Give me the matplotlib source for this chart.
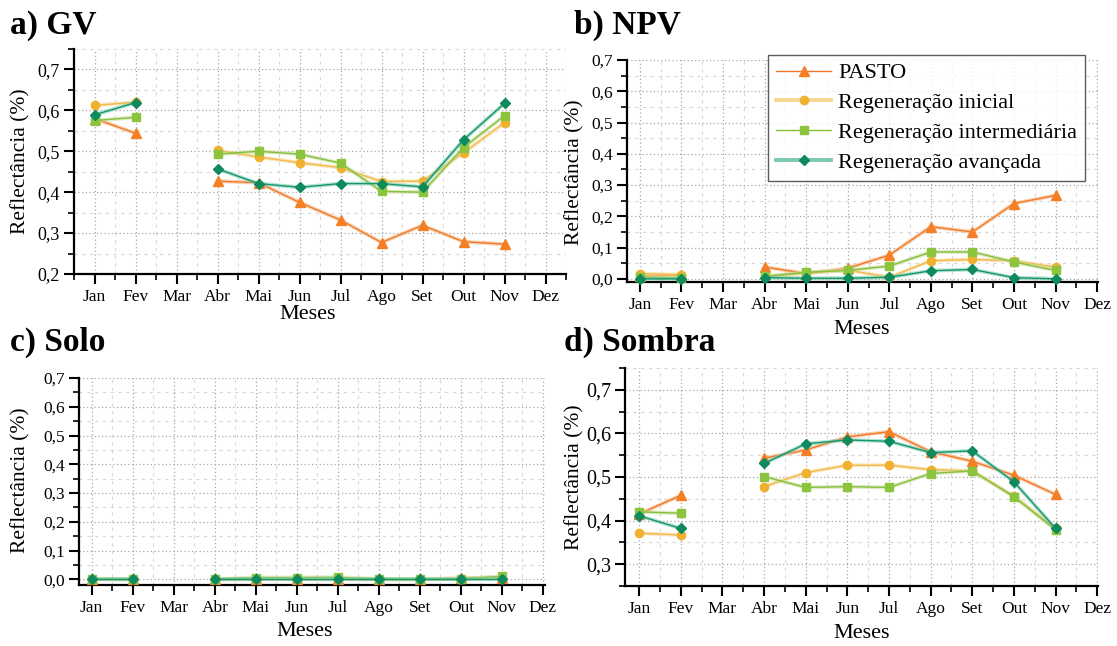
import numpy as np
import matplotlib
matplotlib.use("Agg")
import matplotlib.pyplot as plt
from matplotlib.ticker import FuncFormatter, MultipleLocator
from matplotlib.lines import Line2D

plt.rcParams['font.family'] = ['Liberation Serif', 'DejaVu Serif']

months = ["Jan", "Fev", "Mar", "Abr", "Mai", "Jun", "Jul", "Ago", "Set", "Out", "Nov", "Dez"]
nan = np.nan
series_names = ["PASTO", "Regeneração inicial", "Regeneração intermediária", "Regeneração avançada"]

# values Jan..Nov (Mar missing)
gv_pasto = [0.580, 0.544, nan, 0.427, 0.423, 0.375, 0.332, 0.277, 0.319, 0.279, 0.273]
gv_inicial = [0.612, 0.620, nan, 0.502, 0.486, 0.472, 0.460, 0.426, 0.427, 0.496, 0.570]
gv_intermed = [0.575, 0.583, nan, 0.493, 0.500, 0.493, 0.471, 0.402, 0.400, 0.509, 0.587]
gv_avancada = [0.589, 0.619, nan, 0.457, 0.421, 0.412, 0.421, 0.421, 0.413, 0.528, 0.617]

npv_pasto = [0.008, 0.012, nan, 0.038, 0.017, 0.034, 0.076, 0.167, 0.150, 0.241, 0.267]
npv_inicial = [0.017, 0.013, nan, 0.006, 0.019, 0.028, 0.005, 0.058, 0.062, 0.058, 0.037]
npv_intermed = [0.005, 0.003, nan, 0.008, 0.021, 0.027, 0.041, 0.086, 0.086, 0.054, 0.027]
npv_avancada = [0.000, 0.000, nan, 0.004, 0.002, 0.002, 0.005, 0.026, 0.030, 0.004, 0.000]

solo_pasto = [0.000, 0.000, nan, 0.000, 0.000, 0.000, 0.000, 0.000, 0.000, 0.003, 0.006]
solo_inicial = [0.001, 0.000, nan, 0.000, 0.001, 0.001, 0.001, 0.000, 0.000, 0.002, 0.004]
solo_intermed = [0.001, 0.000, nan, 0.000, 0.006, 0.006, 0.007, 0.001, 0.000, 0.002, 0.010]
solo_avancada = [0.000, 0.000, nan, 0.000, 0.000, 0.000, 0.000, 0.000, 0.000, 0.000, 0.000]

sombra_pasto = [0.415, 0.458, nan, 0.543, 0.562, 0.592, 0.604, 0.558, 0.536, 0.504, 0.460]
sombra_inicial = [0.371, 0.367, nan, 0.478, 0.510, 0.527, 0.527, 0.517, 0.514, 0.456, 0.382]
sombra_intermed = [0.420, 0.417, nan, 0.501, 0.476, 0.478, 0.476, 0.508, 0.514, 0.455, 0.379]
sombra_avancada = [0.411, 0.382, nan, 0.531, 0.576, 0.585, 0.582, 0.556, 0.560, 0.489, 0.382]

marker_cols = ["#F47F25", "#F0B030", "#8CC43E", "#0F8A5C"]
line_cols = ["#F07A28", "#F2B84A", "#86BE3C", "#13966A"]
band_cols = ["#F7B07A", "#F7D690", "#C2DE94", "#7ACBAE"]
markers = ["^", "o", "s", "D"]
msizes = [6.5, 6, 6, 5.5]

fig = plt.figure(figsize=(11.17, 6.46), dpi=100)
W, H = 1117, 646

def add_ax(l, r, t, b):
    return fig.add_axes([l / W, 1 - b / H, (r - l) / W, (b - t) / H])

def fmt(v, pos):
    return f"{v:.1f}".replace(".", ",")

def style(ax, xlim, ylim, xtick_fs, ytick_fs, ylab_xy, xlab_xy):
    ax.set_xlim(*xlim)
    ax.set_ylim(*ylim)
    ax.set_xticks(np.arange(1, 13))
    ax.set_xticklabels(months)
    ax.xaxis.set_minor_locator(MultipleLocator(0.5))
    ax.yaxis.set_major_locator(MultipleLocator(0.1))
    ax.yaxis.set_minor_locator(MultipleLocator(0.05))
    ax.yaxis.set_major_formatter(FuncFormatter(fmt))
    ax.tick_params(axis="both", which="major", direction="out", length=7, width=1.5, colors="black", pad=4)
    ax.tick_params(axis="x", which="major", labelsize=xtick_fs)
    ax.tick_params(axis="y", which="major", labelsize=ytick_fs, pad=3)
    ax.tick_params(axis="both", which="minor", direction="out", length=4, width=1.2, colors="black")
    for s in ["top", "right"]:
        ax.spines[s].set_visible(False)
    for s in ["left", "bottom"]:
        ax.spines[s].set_linewidth(1.6)
    ax.grid(True, which="major", color="#a8a8a8", linestyle=(0, (1, 2)), linewidth=0.9)
    ax.grid(True, which="minor", color="#d8d8d8", linestyle=(0, (3, 4)), linewidth=0.8)
    ax.set_axisbelow(True)
    fig.text(ylab_xy[0] / W, 1 - ylab_xy[1] / H, "Reflectância (%)", fontsize=15.5,
             rotation=90, ha="center", va="center")
    fig.text(xlab_xy[0] / W, 1 - xlab_xy[1] / H, "Meses", fontsize=16, ha="center", va="center")

def draw(ax, data):
    x = np.arange(1, len(data[0]) + 1)
    for i, y in enumerate(data):
        y = np.asarray(y, dtype=float)
        ax.plot(x, y, color=band_cols[i], lw=2.8, alpha=0.55, solid_capstyle="round", zorder=2 + i)
        ax.plot(x, y, color=line_cols[i], lw=1.0, marker=markers[i], ms=msizes[i],
                mfc=marker_cols[i], mec=marker_cols[i], zorder=3 + i, clip_on=False)

# a) GV
axa = add_ax(74, 566, 49, 274)
style(axa, (0.5, 12.5), (0.2, 0.75), 12.5, 13, (21, 161), (308, 314))
draw(axa, [gv_pasto, gv_inicial, gv_intermed, gv_avancada])

# b) NPV
axb = add_ax(627, 1098, 60, 282)
style(axb, (0.69, 12.02), (-0.01, 0.7), 12.5, 12.5, (575, 172), (862, 329))
draw(axb, [npv_pasto, npv_inicial, npv_intermed, npv_avancada])

# c) Solo
axc = add_ax(79, 545, 378, 585)
style(axc, (0.69, 12.05), (-0.02, 0.7), 12.5, 12.5, (21, 480), (305, 632))
draw(axc, [solo_pasto, solo_inicial, solo_intermed, solo_avancada])

# d) Sombra
axd = add_ax(625, 1098, 368, 586)
style(axd, (0.66, 12.02), (0.25, 0.75), 12.5, 14.5, (575, 477), (862, 633))
draw(axd, [sombra_pasto, sombra_inicial, sombra_intermed, sombra_avancada])

# legend in panel b
handles = []
for i in range(4):
    handles.append(Line2D([], [], color=band_cols[i] if i in (1, 3) else line_cols[i],
                          lw=2.8 if i in (1, 3) else 1.0, marker=markers[i], ms=msizes[i],
                          mfc=marker_cols[i], mec=marker_cols[i]))
leg = axb.legend(handles, series_names, loc="upper left",
                 bbox_to_anchor=((768 - 627) / 471, (282 - 55) / 222),
                 fontsize=16, frameon=True, fancybox=False, borderpad=0.35,
                 handlelength=2.5, handletextpad=0.3, labelspacing=0.42, borderaxespad=0.0)
leg.get_frame().set_edgecolor("#333333")
leg.get_frame().set_linewidth(1.0)
leg.set_zorder(20)

# panel titles
tfs = 24
fig.text(10 / W, 1 - 34 / H, "a) GV", fontsize=tfs, fontweight="bold", ha="left", va="baseline")
fig.text(574 / W, 1 - 34 / H, "b) NPV", fontsize=tfs, fontweight="bold", ha="left", va="baseline")
fig.text(10 / W, 1 - 351 / H, "c) Solo", fontsize=tfs, fontweight="bold", ha="left", va="baseline")
fig.text(564 / W, 1 - 351 / H, "d) Sombra", fontsize=tfs, fontweight="bold", ha="left", va="baseline")

fig.savefig("out.png", dpi=100)
